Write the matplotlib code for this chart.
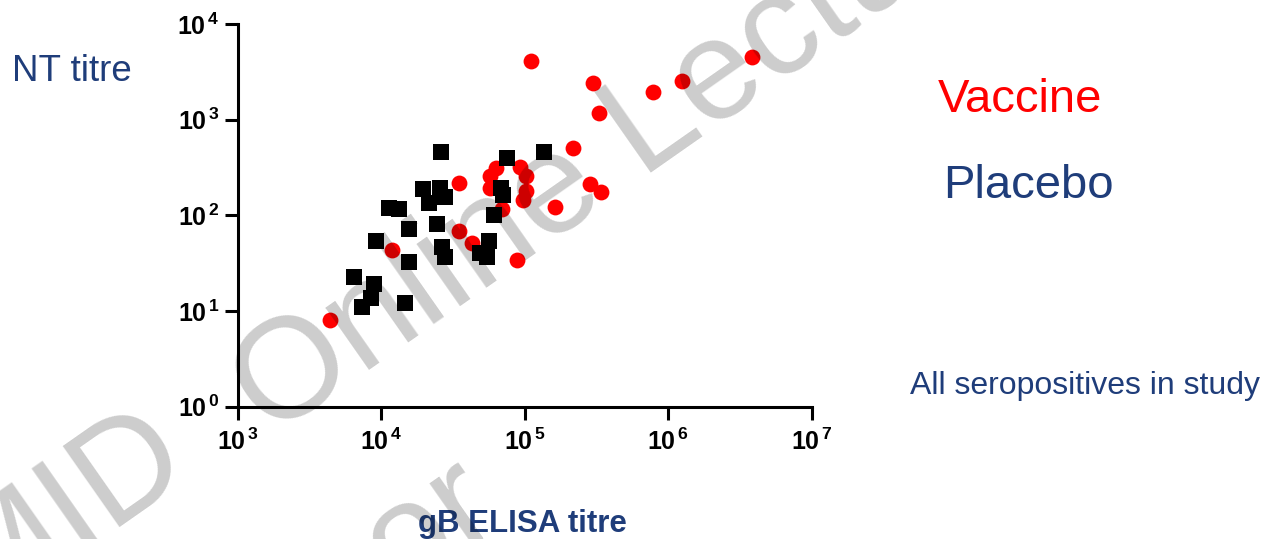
import matplotlib
matplotlib.use('Agg')
import matplotlib.pyplot as plt

# gB ELISA titre (x) vs NT titre (y)
vaccine_x = [1.11e5, 2.97e5, 7.8e5, 1.24e6, 3.81e6, 3.27e5, 2.18e5, 2.84e5,
             3.41e5, 1.63e5, 3.46e4, 6.3e4, 5.69e4, 5.75e4, 9.2e4, 1.02e5,
             1.02e5, 9.8e4, 6.9e4, 3.46e4, 4.3e4, 1.19e4, 8.85e4, 4.37e3]
vaccine_y = [4100, 2440, 1960, 2520, 4520, 1165, 510, 211,
             177, 123, 216, 310, 258, 195, 323, 260,
             180, 145, 116, 69, 52, 43.4, 34.1, 8.05]

placebo_x = [2.6e4, 7.5e4, 1.36e5, 1.94e4, 2.56e4, 2.8e4, 2.14e4, 1.14e4,
             1.32e4, 6.8e4, 7.1e4, 6.1e4, 1.57e4, 2.45e4, 9.2e3, 2.65e4,
             2.77e4, 5.6e4, 4.84e4, 5.47e4, 1.57e4, 6.43e3, 8.9e3, 8.5e3,
             7.3e3, 1.46e4]
placebo_y = [456, 401, 459, 187, 191, 157, 136, 120,
             117, 195, 163, 101, 72, 81, 54.4, 47,
             37, 54.4, 40.1, 37, 32.8, 22.9, 19, 13.6,
             10.9, 12.2]

x_exponents = [3, 4, 5, 6, 7]
y_exponents = [0, 1, 2, 3, 4]

navy = '#1f3d7a'
red = '#ff0000'

plt.rcParams['font.family'] = ['Liberation Sans', 'DejaVu Sans']
plt.rcParams['mathtext.fontset'] = 'custom'
plt.rcParams['mathtext.bf'] = 'Liberation Sans:bold'
plt.rcParams['mathtext.rm'] = 'Liberation Sans:bold'


def power_label(e):
    return r'$\mathbf{10^{\,%d}}$' % e


fig = plt.figure(figsize=(12.62, 5.39), dpi=100)
ax = fig.add_axes([0.1884, 0.2454, 0.4548, 0.7101])

ax.scatter(vaccine_x, vaccine_y, s=130, marker='o', color=red, linewidths=0, zorder=3)
ax.scatter(placebo_x, placebo_y, s=130, marker='s', color='black', linewidths=0, zorder=4)

ax.set_xscale('log')
ax.set_yscale('log')
ax.set_xlim(10.0 ** x_exponents[0], 10.0 ** x_exponents[-1])
ax.set_ylim(10.0 ** y_exponents[0], 10.0 ** y_exponents[-1])
ax.set_xticks([10.0 ** e for e in x_exponents])
ax.set_yticks([10.0 ** e for e in y_exponents])
ax.set_xticklabels([power_label(e) for e in x_exponents])
ax.set_yticklabels([power_label(e) for e in y_exponents])
ax.minorticks_off()

for side in ['top', 'right']:
    ax.spines[side].set_visible(False)
for side in ['left', 'bottom']:
    ax.spines[side].set_linewidth(2.2)
ax.tick_params(axis='both', which='major', length=9.5, width=2.2,
               labelsize=18, color='black')
ax.tick_params(axis='x', pad=6.5)
ax.tick_params(axis='y', pad=3.5)
ax.patch.set_alpha(0)

# slide texts
fig.text(12 / 1262, 1 - 81 / 539, 'NT titre', fontsize=26.5, color=navy,
         ha='left', va='baseline')
fig.text(938 / 1262, 1 - 112 / 539, 'Vaccine', fontsize=34, color=red,
         ha='left', va='baseline')
fig.text(943 / 1262, 1 - 198 / 539, 'Placebo', fontsize=34, color=navy,
         ha='left', va='baseline')
fig.text(910 / 1262, 1 - 394 / 539, 'All seropositives in study', fontsize=23,
         color=navy, ha='left', va='baseline')
fig.text(418 / 1262, 1 - 532 / 539, 'gB ELISA titre', fontsize=22.5,
         fontweight='bold', color=navy, ha='left', va='baseline')

# watermark
wm = dict(rotation=35, rotation_mode='anchor', ha='left', va='baseline',
          fontsize=103, color='black', alpha=0.2, zorder=10)
fig.text(-0.017, -0.1458, 'MID', **wm)
fig.text(0.2146, 0.1850, 'Online Lectures', **wm)
fig.text(0.3167, -0.1002, 'or', **wm)

fig.savefig('out.png', dpi=100)
